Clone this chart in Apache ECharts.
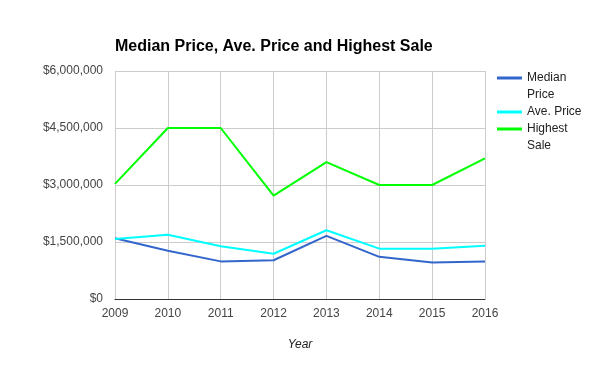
<!DOCTYPE html>
<html>
<head>
<meta charset="utf-8">
<script src="https://cdn.jsdelivr.net/npm/echarts@6/dist/echarts.min.js"></script>
<style>html,body{margin:0;padding:0;background:#fff;}#c{width:600px;height:371px;}</style>
</head>
<body>
<div id="c"></div>
<script>
const years = ['2009','2010','2011','2012','2013','2014','2015','2016'];
const medianPrice = [1600000, 1270000, 990000, 1020000, 1660000, 1110000, 960000, 990000];
const avePrice = [1580000, 1690000, 1390000, 1190000, 1810000, 1325000, 1325000, 1400000];
const highestSale = [3030000, 4500000, 4500000, 2720000, 3600000, 3000000, 3000000, 3700000];
const seriesNames = ['Median Price', 'Ave. Price', 'Highest Sale'];
const seriesColors = ['#3366cc', '#00ffff', '#00ff00'];

const chart = echarts.init(document.getElementById('c'), null, {renderer: 'canvas'});
const font = 'Liberation Sans, Arial, sans-serif';
const wrapName = n => n === 'Median Price' ? '\nMedian\nPrice' : (n === 'Highest Sale' ? '\nHighest\nSale' : n);

function makeLegend(name, top) {
  return {
    data: [name],
    orient: 'vertical',
    left: 497,
    top: top,
    padding: 0,
    itemWidth: 25,
    itemHeight: 3,
    itemGap: 0,
    icon: 'rect',
    formatter: wrapName,
    textStyle: {fontFamily: font, fontSize: 12, color: '#222', lineHeight: 17}
  };
}

chart.setOption({
  animation: false,
  backgroundColor: '#fff',
  title: {
    text: 'Median Price, Ave. Price and Highest Sale',
    left: 110, top: 34,
    textStyle: {fontFamily: font, fontSize: 16, fontWeight: 'bold', color: '#000'}
  },
  legend: [
    makeLegend(seriesNames[0], 52.5),
    makeLegend(seriesNames[1], 103.5),
    makeLegend(seriesNames[2], 103.5)
  ],
  grid: {left: 115, right: 115, top: 71, bottom: 72},
  xAxis: {
    type: 'category',
    data: years,
    boundaryGap: false,
    name: 'Year',
    nameLocation: 'middle',
    nameGap: 40,
    nameTextStyle: {fontFamily: font, fontSize: 12, fontStyle: 'italic', color: '#222'},
    axisLine: {lineStyle: {color: '#333', width: 1}},
    axisTick: {show: false},
    axisLabel: {fontFamily: font, fontSize: 12, color: '#444', margin: 9},
    splitLine: {show: true, lineStyle: {color: '#ccc', width: 1}}
  },
  yAxis: {
    type: 'value',
    min: 0, max: 6000000, interval: 1500000,
    axisLine: {show: false},
    axisTick: {show: false},
    axisLabel: {fontFamily: font, fontSize: 12, color: '#444', margin: 12,
      formatter: v => '$' + v.toLocaleString('en-US')},
    splitLine: {show: true, lineStyle: {color: '#ccc', width: 1}}
  },
  series: [
    {name: seriesNames[0], type: 'line', data: medianPrice, color: seriesColors[0], showSymbol: false, lineStyle: {width: 2}},
    {name: seriesNames[1], type: 'line', data: avePrice, color: seriesColors[1], showSymbol: false, lineStyle: {width: 2}},
    {name: seriesNames[2], type: 'line', data: highestSale, color: seriesColors[2], showSymbol: false, lineStyle: {width: 2}}
  ]
});
</script>
</body>
</html>
